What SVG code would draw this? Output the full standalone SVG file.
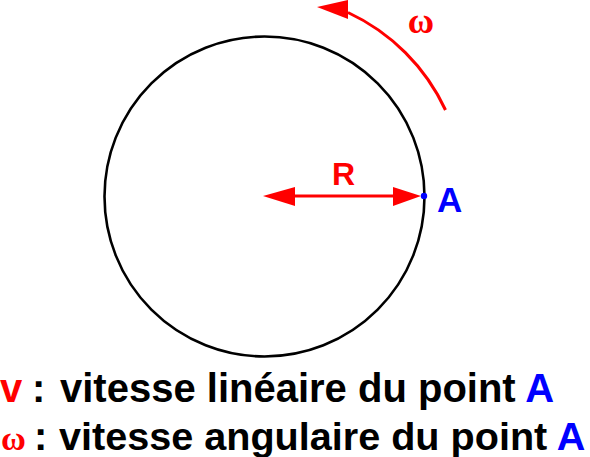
<svg xmlns="http://www.w3.org/2000/svg" width="590" height="457" viewBox="0 0 590 457">
<style>
.t{font-family:"Liberation Sans",Arial,sans-serif;font-weight:bold}
.w{font-family:"Liberation Serif","Times New Roman",serif;font-weight:bold}
.red{fill:#ff0000}
.blue{fill:#0000ff}
.blk{fill:#000000}
</style>
<rect width="590" height="457" fill="#ffffff"/>
<g id="circle">
<circle cx="264.5" cy="196.5" r="160" fill="none" stroke="#000" stroke-width="2.6"/>
</g>
<g id="connectors">
<path d="M445.5,110 A201,201 0 0 0 348,12.5" fill="none" stroke="#ff0000" stroke-width="3"/>
<polygon points="317,7 348,0 348,19" fill="#ff0000"/>
<line x1="290" y1="196" x2="398" y2="196" stroke="#ff0000" stroke-width="3"/>
<polygon points="263,196 295,187 295,206" fill="#ff0000"/>
<polygon points="421,196 393,187 393,206" fill="#ff0000"/>
</g>
<g id="pointA">
<circle cx="424" cy="196" r="3.2" fill="#0000ff"/>
<text class="t blue" x="437" y="212" font-size="35">A</text>
</g>
<g id="labels">
<text class="w red" x="421" y="33" font-size="36" text-anchor="middle">ω</text>
<text class="t red" x="332" y="185" font-size="32">R</text>
</g>
<g id="legend">
<text class="t red" x="0" y="402" font-size="40">v</text>
<text class="t blk" x="32" y="402" font-size="40">:</text>
<text class="t blk" x="60" y="402" font-size="40">vitesse linéaire du point <tspan class="blue">A</tspan></text>
<text class="w red" x="1" y="450" font-size="34">ω</text>
<text class="t blk" x="34" y="450" font-size="40">:</text>
<text class="t blk" x="59" y="450" font-size="39.6">vitesse angulaire du point <tspan class="blue">A</tspan></text>
</g>
</svg>
